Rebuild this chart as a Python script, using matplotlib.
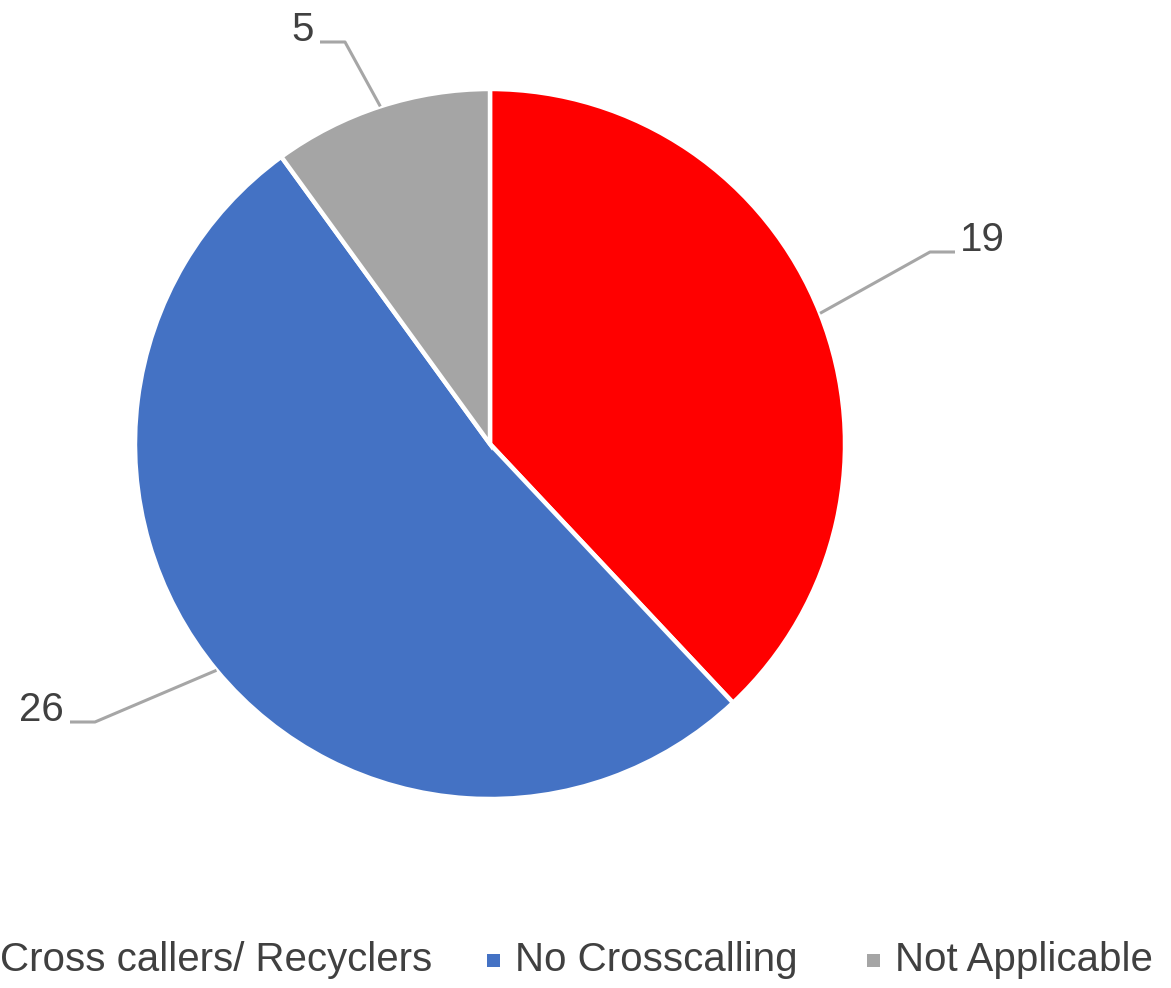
import numpy as np
import matplotlib
matplotlib.use("Agg")
import matplotlib.pyplot as plt
from matplotlib.patches import Rectangle

plt.rcParams['font.family'] = ['Liberation Sans', 'DejaVu Sans']

categories = ['Cross callers/ Recyclers', 'No Crosscalling', 'Not Applicable']
counts = [19, 26, 5]
colors = ['#FF0000', '#4472C4', '#A5A5A5']

W, H = 1171, 988
text_color = '#404040'
line_color = '#A6A6A6'

fig = plt.figure(figsize=(W / 100, H / 100), dpi=100)
ax = fig.add_axes([0, 0, 1, 1])


def py(y):
    # top-down pixel y -> axes y
    return H - y


cx, cy, r = 490, py(444), 355
wedges, _ = ax.pie(counts, colors=colors, startangle=90, counterclock=False,
                   center=(cx, cy), radius=r, frame=True,
                   wedgeprops=dict(edgecolor='white', linewidth=3.2))
ax.set_xlim(0, W)
ax.set_ylim(0, H)
ax.set_aspect('equal')
ax.axis('off')

# leader elbows / ends and label anchors
elbows = [(930, 252), (95, 722), (345, 42)]
ends = [(955, 252), (70, 722), (320, 42)]
label_pos = [(960, 240, 'left'), (64, 710, 'right'), (314, 30, 'right')]

for w, v, el, en, lp in zip(wedges, counts, elbows, ends, label_pos):
    mid = np.deg2rad((w.theta1 + w.theta2) / 2)
    ex, ey = cx + r * np.cos(mid), cy + r * np.sin(mid)
    ax.plot([ex, el[0], en[0]], [ey, py(el[1]), py(en[1])],
            color=line_color, lw=2.2, solid_capstyle='butt', zorder=3)
    ax.text(lp[0], py(lp[1]), str(v), ha=lp[2], va='center',
            fontsize=29, color=text_color)

# legend row along the bottom
leg_y = py(960)
text_x = [0, 515, 895]
for cat, col, tx in zip(categories, colors, text_x):
    ax.add_patch(Rectangle((tx - 28, leg_y - 7), 13, 13,
                           facecolor=col, edgecolor='none', clip_on=True))
    ax.text(tx, leg_y, cat, ha='left', va='center',
            fontsize=29, color=text_color)

fig.savefig('out.png', dpi=100, facecolor='white')
